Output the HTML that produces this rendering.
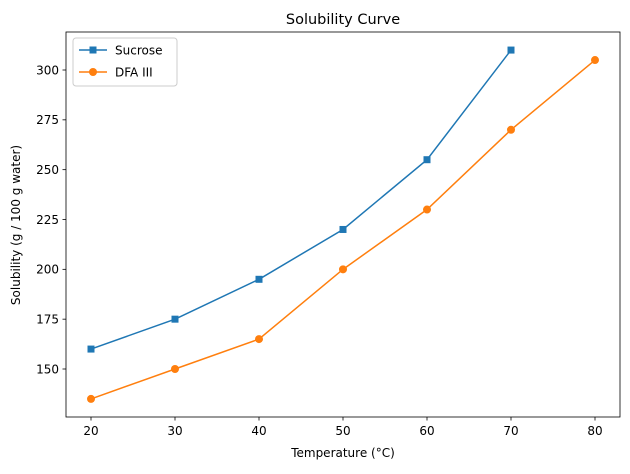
<!DOCTYPE html>
<html><head><meta charset="utf-8"><style>
body{margin:0;background:#fff;font-family:"DejaVu Sans",sans-serif;}
svg text{font-family:"DejaVu Sans",sans-serif;}
</style></head><body>
<svg width="630" height="470" xmlns="http://www.w3.org/2000/svg">
<text x="343" y="24" text-anchor="middle" font-size="14.5">Solubility Curve</text>
<rect x="66" y="32" width="554" height="385" fill="none" stroke="#000" stroke-width="0.8"/>
<g id="xt"></g><g id="yt"></g><g id="series"></g>
<text x="343" y="457" text-anchor="middle" font-size="12">Temperature (°C)</text>
<text transform="translate(20,225) rotate(-90)" text-anchor="middle" font-size="12">Solubility (g / 100 g water)</text>
<g>
<rect x="73" y="38" width="104" height="48" rx="3" fill="#fff" stroke="#ccc"/>
<g>
<line x1="79" y1="50" x2="107" y2="50" stroke="#1f77b4" stroke-width="1.5"/>
<rect x="89.5" y="46.5" width="7" height="7" fill="#1f77b4"/>
<text x="115" y="54.5" font-size="12">Sucrose</text></g>
<g>
<line x1="79" y1="72" x2="107" y2="72" stroke="#ff7f0e" stroke-width="1.5"/>
<circle cx="93" cy="72" r="4" fill="#ff7f0e"/>
<text x="115" y="76.5" font-size="12">DFA III</text></g>
</g>
</svg>
<script>
const xTicks=[20,30,40,50,60,70,80];
const yTicks=[150,175,200,225,250,275,300];
const sucroseX=[20,30,40,50,60,70];
const sucroseY=[160,175,195,220,255,310];
const dfaX=[20,30,40,50,60,70,80];
const dfaY=[135,150,165,200,230,270,305];
const NS="http://www.w3.org/2000/svg";
function sx(v){return 91+(v-20)*8.4;}
function sy(v){return 369-(v-150)*1.9933;}
function mk(t,a,p){const e=document.createElementNS(NS,t);for(const k in a)e.setAttribute(k,a[k]);p.appendChild(e);return e;}
const xt=document.getElementById('xt'),yt=document.getElementById('yt'),sg=document.getElementById('series');
xTicks.forEach(v=>{const g=mk('g',{},xt);


mk('line',{x1:sx(v),x2:sx(v),y1:417,y2:420.5,stroke:'#000','stroke-width':0.8},g);
const t=mk('text',{x:sx(v),y:435,'text-anchor':'middle','font-size':12},g);t.textContent=v;});
yTicks.forEach(v=>{const g=mk('g',{},yt);


mk('line',{x1:62.5,x2:66,y1:sy(v),y2:sy(v),stroke:'#000','stroke-width':0.8},g);
const t=mk('text',{x:59,y:sy(v)+4.3,'text-anchor':'end','font-size':12},g);t.textContent=v;});
function series(xs,ys,c,name,sq){const g=mk('g',{},sg);


mk('polyline',{points:xs.map((x,i)=>sx(x)+','+sy(ys[i])).join(' '),fill:'none',stroke:c,'stroke-width':1.5},g);
xs.forEach((x,i)=>{let m;if(sq)m=mk('rect',{x:sx(x)-3.5,y:sy(ys[i])-3.5,width:7,height:7,fill:c},g);
else m=mk('circle',{cx:sx(x),cy:sy(ys[i]),r:4,fill:c},g);

});}
series(sucroseX,sucroseY,'#1f77b4','sucrose',true);
series(dfaX,dfaY,'#ff7f0e','dfa-iii',false);
</script>
</body></html>
